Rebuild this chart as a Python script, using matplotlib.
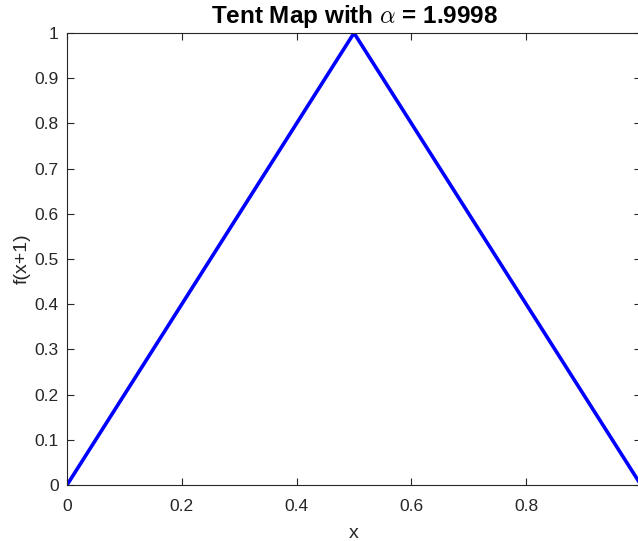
import matplotlib
matplotlib.use("Agg")
import matplotlib.pyplot as plt
import numpy as np

alpha = 1.9998
x_vals = [0.0, 0.5, 1.0]
y_vals = [0.0, 1.0, 0.0]

plt.rcParams['font.family'] = ['Liberation Sans', 'DejaVu Sans']
plt.rcParams['mathtext.fontset'] = 'cm'

fig = plt.figure(figsize=(6.38, 5.41), dpi=100)
ax = fig.add_axes([67/638, 56/541, 574/638, 452/541])

ax.plot(x_vals, y_vals, color='#0000ff', linewidth=2.6)

ax.set_xlim(0, 1)
ax.set_ylim(0, 1)
ax.set_xticks(np.arange(0, 1.01, 0.2))
ax.set_yticks(np.arange(0, 1.01, 0.1))
ax.set_xticklabels(['0', '0.2', '0.4', '0.6', '0.8', '1'])
ax.set_yticklabels(['0', '0.1', '0.2', '0.3', '0.4', '0.5', '0.6', '0.7', '0.8', '0.9', '1'])

grey = '#262626'
for s in ax.spines.values():
    s.set_color(grey)
    s.set_linewidth(0.8)
ax.tick_params(direction='in', top=True, right=True, length=5, width=0.8,
               colors=grey, labelsize=12.5)
ax.tick_params(axis='x', pad=10)
ax.tick_params(axis='y', pad=6)

ax.set_xlabel('x', fontsize=14, color=grey, labelpad=8)
ax.set_ylabel('f(x+1)', fontsize=14, color=grey, labelpad=3)
ax.set_title(r'Tent Map with $\alpha$ = %.4f' % alpha, fontsize=17.5,
             fontweight='bold', pad=7)

fig.savefig('out.png', dpi=100)
